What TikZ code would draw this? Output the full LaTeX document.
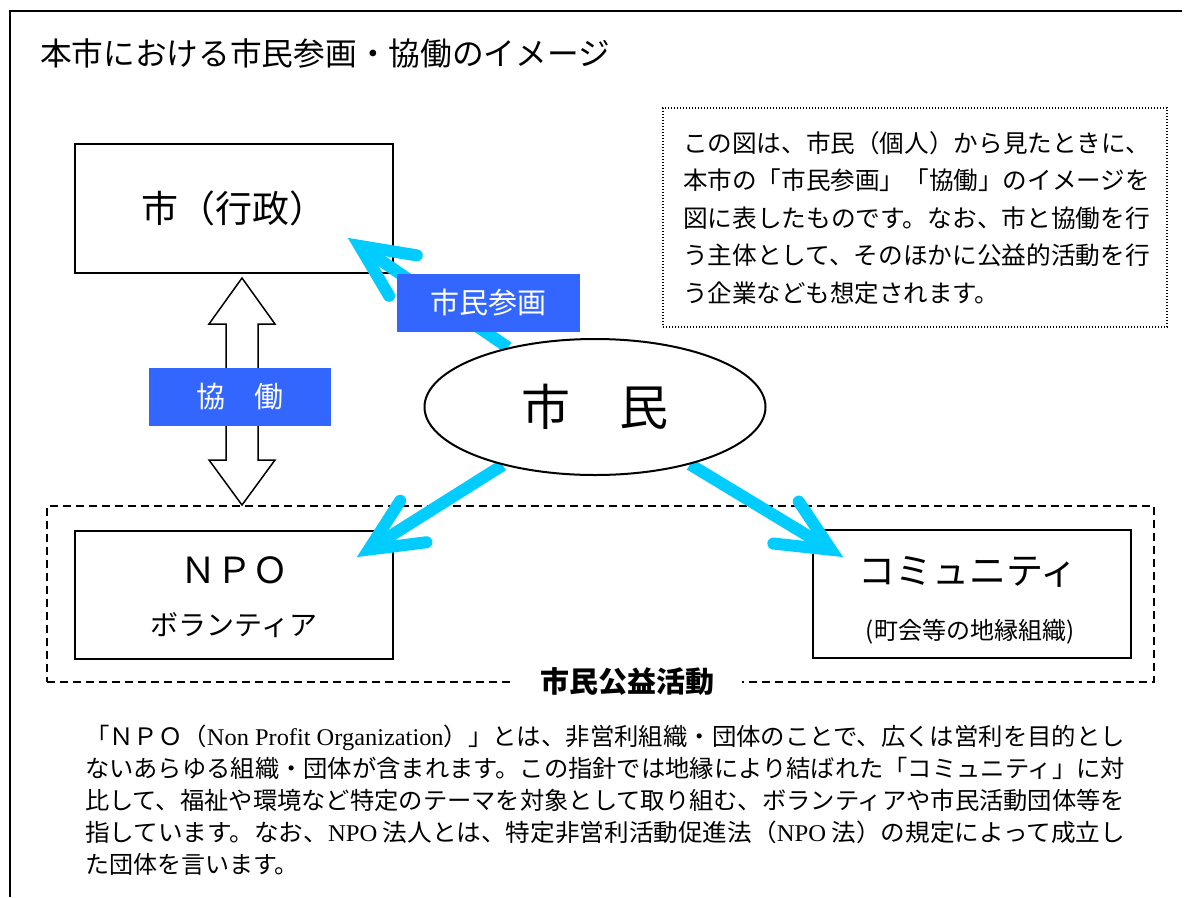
\documentclass[tikz,border=0pt]{standalone}
\usepackage{fontspec}
\usepackage{graphicx}
\setmainfont{Noto Sans CJK JP}
\newfontfamily\lserif{Liberation Serif}
\usetikzlibrary{shapes.geometric,calc}
\definecolor{cyanA}{HTML}{00CCFF}
\definecolor{blueL}{HTML}{3366FF}
\newcommand\fsz[1]{\fontsize{#1}{#1}\selectfont}
\newcommand\hstretch[2]{\resizebox{#1}{\height}{#2}}
\pgfdeclarelayer{fg}
\pgfsetlayers{main,fg}
\begin{document}
\begin{tikzpicture}[x=1pt,y=-1pt,
  frame/.style={line width=2.5pt},
  box/.style={draw,line width=2pt,fill=white,minimum width=318pt,minimum height=129pt,inner sep=0pt},
  plain/.style={inner sep=0pt,outer sep=0pt},
  txtline/.style={inner sep=0pt,outer sep=0pt,anchor=base west},
  tag/.style={fill=blueL,text=white,inner sep=0pt,minimum width=183pt,minimum height=58pt},
  cyarrow/.style={draw=cyanA,line width=12pt},
]
\useasboundingbox (0,0) rectangle (1185,897);
\fill[white] (0,0) rectangle (1185,897);
\draw[frame] (1182,11) -- (10,11) -- (10,897);

\node[txtline] (title) at (40,65) {\fsz{31.7}本市における市民参画・協働のイメージ};

% dashed region of citizen public-interest activities
\node[draw,dash pattern=on 8pt off 5pt,line width=1.5pt,minimum width=1107pt,minimum height=176pt,plain] (region) at (600.5,594) {};
\node[fill=white,inner xsep=28pt,inner ysep=3pt] (koueki) at (627,682) {\fsz{29}\bfseries 市民公益活動};

% boxes
\node[box] (gyosei) at (234,208) {\fsz{37}市（行政）};
\node[box,minimum height=128pt] (npo) at (234,595) {};
\node[plain] (npo1) at (234,570) {\fsz{36}ＮＰＯ};
\node[plain] (npo2) at (234,625) {\fsz{28}ボランティア};
\node[box,minimum height=128pt] (comm) at (972,594) {};
\node[plain] (comm1) at (968,572) {\fsz{37}コミュニティ};
\node[plain] (comm2) at (970,632) {\fsz{24}(町会等の地縁組織)};

% info box
\node[draw,dash pattern=on 1pt off 2pt,line width=1.2pt,minimum width=504pt,minimum height=219pt,plain] (info) at (915,217.5) {};
\node[txtline] (i1) at (683,152) {\fsz{24.5}\hstretch{467pt}{この図は、市民（個人）から見たときに、}};
\node[txtline] (i2) at (683,189.5) {\fsz{24.5}\hstretch{467pt}{本市の「市民参画」「協働」のイメージを}};
\node[txtline] (i3) at (683,227) {\fsz{24.5}\hstretch{467pt}{図に表したものです。なお、市と協働を行}};
\node[txtline] (i4) at (683,264.5) {\fsz{24.5}\hstretch{467pt}{う主体として、そのほかに公益的活動を行}};
\node[txtline] (i5) at (683,302) {\fsz{24.5}う企業なども想定されます。};

% bottom paragraph
\node[txtline] (p1) at (85,745) {\fsz{24}\hstretch{1040pt}{「ＮＰＯ（{\lserif Non Profit Organization}）」とは、非営利組織・団体のことで、広くは営利を目的とし}};
\node[txtline] (p2) at (85,777) {\fsz{24}\hstretch{1040pt}{ないあらゆる組織・団体が含まれます。この指針では地縁により結ばれた「コミュニティ」に対}};
\node[txtline] (p3) at (85,809) {\fsz{24}\hstretch{1040pt}{比して、福祉や環境など特定のテーマを対象として取り組む、ボランティアや市民活動団体等を}};
\node[txtline] (p4) at (85,841) {\fsz{24}\hstretch{1040pt}{指しています。なお、{\lserif NPO} 法人とは、特定非営利活動促進法（{\lserif NPO} 法）の規定によって成立し}};
\node[txtline] (p5) at (85,873) {\fsz{24}た団体を言います。};

% double arrow (cooperation)
\draw[line width=1.5pt,fill=white,line join=miter]
  (242,278) -- (275,324) -- (258,324) -- (258,460) -- (275,460) -- (242,505)
  -- (209,460) -- (226,460) -- (226,324) -- (209,324) -- cycle;
\node[tag,minimum width=182pt] (kyodo) at (240,397) {\fsz{29}協　働};

% citizens ellipse (on top layer)
\begin{pgfonlayer}{fg}
\node[ellipse,draw,line width=2pt,fill=white,minimum width=341pt,minimum height=136pt,inner sep=0pt] (shimin) at (595,407) {\fsz{49}市　民};
\end{pgfonlayer}

% cyan arrows
\coordinate (t1) at (348,238);
\coordinate (t2) at (357,557);
\coordinate (t3) at (843,557);
\foreach \t in {t1,t2,t3} {
  \coordinate (v\t) at ($(\t)!14pt!(shimin)$);
  \draw[cyarrow,line cap=butt] (shimin) -- (v\t);
  \draw[cyarrow,line cap=round,line join=miter] ($(v\t)!58pt!25:(shimin)$) -- (v\t) -- ($(v\t)!58pt!-25:(shimin)$);
}

\node[tag] (sanka) at (488.5,302.5) {\fsz{29}市民参画};
\end{tikzpicture}
\end{document}
